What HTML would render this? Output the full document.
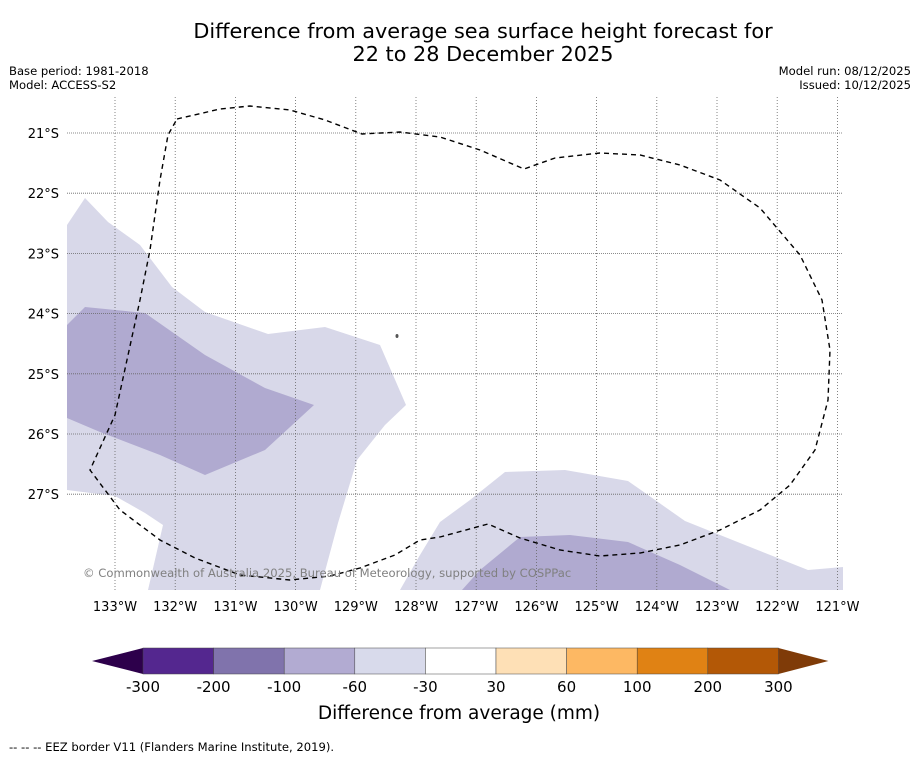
<!DOCTYPE html>
<html><head><meta charset="utf-8"><style>
body{margin:0;background:#fff;font-family:"DejaVu Sans","Liberation Sans",sans-serif;}
svg text{font-family:"DejaVu Sans","Liberation Sans",sans-serif;}
</style></head><body>
<svg width="919" height="758" xmlns="http://www.w3.org/2000/svg">
<text x="483" y="38" font-size="20.8" text-anchor="middle">Difference from average sea surface height forecast for</text>
<text x="483" y="61" font-size="20.8" text-anchor="middle">22 to 28 December 2025</text>
<text x="9" y="75" font-size="11.6">Base period: 1981-2018</text>
<text x="9" y="89" font-size="11.6">Model: ACCESS-S2</text>
<text x="911" y="75" font-size="11.6" text-anchor="end">Model run: 08/12/2025</text>
<text x="911" y="89" font-size="11.6" text-anchor="end">Issued: 10/12/2025</text>
<defs><clipPath id="mc"><rect x="67" y="97" width="776" height="493"/></clipPath></defs>
<g id="map" clip-path="url(#mc)">
<polygon fill="#d8d8e9" points="67,225 85,198 108,222 140,245 172,287 205,312 268,334 325,327 380,345 406,405 385,425 357,460 338,523 320,590 148,590 163,525 145,513 115,496 67,490"/>
<polygon fill="#b0aad0" points="67,325 85,307 145,313 205,355 265,388 314,405 265,450 205,475 160,455 100,432 67,418"/>
<polygon fill="#d8d8e9" points="400,590 420,555 440,522 470,500 505,472 565,470 628,481 685,521 740,543 808,570 843,567 843,590"/>
<polygon fill="#b0aad0" points="462,590 480,570 520,537 570,535 628,542 680,565 730,590"/>
<g id="grid"></g>
<polyline fill="none" stroke="#000" stroke-width="1.4" stroke-dasharray="5,4" points="177,119 220,109 250,106 290,110 325,120 362,134 400,132 440,137 480,150 524,169 555,158 600,153 640,155 680,165 720,180 760,208 800,255 822,300 830,350 828,400 815,450 790,485 760,510 720,530 680,545 640,553 600,556 560,550 520,538 488,524 440,537 420,540 395,555 360,568 330,576 290,580 240,575 195,558 160,540 120,510 90,470 115,415 140,300 150,250 160,180 168,135 177,119"/>
<ellipse cx="397" cy="336" rx="1.5" ry="2" fill="#555"/>
<text x="83" y="577" font-size="11.6" fill="#808080">© Commonwealth of Australia 2025, Bureau of Meteorology, supported by COSPPac</text>
</g>
<g id="labels"></g>
<g id="cbar"></g>
<text x="459" y="719" font-size="18.5" text-anchor="middle">Difference from average (mm)</text>
<text x="9" y="751" font-size="11.6">--  --  -- EEZ border V11 (Flanders Marine Institute, 2019).</text>
</svg>
<script>
const lonTicks=[133,132,131,130,129,128,127,126,125,124,123,122,121];
const latTicks=[21,22,23,24,25,26,27];
const cbarLevels=["-300","-200","-100","-60","-30","30","60","100","200","300"];
const cbarColors=["#54278f","#8073ac","#b2abd2","#d8daeb","#ffffff","#fee0b6","#fdb863","#e08214","#b35806"];
const NS="http://www.w3.org/2000/svg";
const xLon=l=>115+(133-l)*60.2;
const yLat=l=>133+(l-21)*60.2;
function mk(t,a,p){const e=document.createElementNS(NS,t);for(const k in a)e.setAttribute(k,a[k]);p.appendChild(e);return e;}
const g=document.getElementById('grid'),L=document.getElementById('labels'),C=document.getElementById('cbar');
lonTicks.forEach(l=>{const x=xLon(l);
const ln=mk('line',{x1:x,x2:x,y1:97,y2:590,stroke:'#666','stroke-width':0.8,'stroke-dasharray':'1,2'},g);


const t=mk('text',{x:x,y:611,'font-size':13,'text-anchor':'middle'},L);t.textContent=l+'°W';

});
latTicks.forEach(l=>{const y=yLat(l);
const ln=mk('line',{x1:67,x2:843,y1:y,y2:y,stroke:'#666','stroke-width':0.8,'stroke-dasharray':'1,1'},g);


const t=mk('text',{x:59,y:y+5,'font-size':13,'text-anchor':'end'},L);t.textContent=l+'°S';

});
const cx0=143,cw=70.6,cy=648,ch=26;
const tl=mk('polygon',{points:`${cx0},${cy} ${cx0},${cy+ch} 92,${cy+ch/2}`,fill:'#2d004b'},C);


cbarColors.forEach((c,i)=>{const r=mk('rect',{x:cx0+i*cw,y:cy,width:cw,height:ch,fill:c,stroke:'#444','stroke-width':0.5},C);

});
const xe=cx0+cbarColors.length*cw;
const tr=mk('polygon',{points:`${xe},${cy} ${xe},${cy+ch} ${xe+50},${cy+ch/2}`,fill:'#7f3b08'},C);


cbarLevels.forEach((v,i)=>{const t=mk('text',{x:cx0+i*cw,y:692,'font-size':15,'text-anchor':'middle'},C);t.textContent=v;

});
</script>
</body></html>
